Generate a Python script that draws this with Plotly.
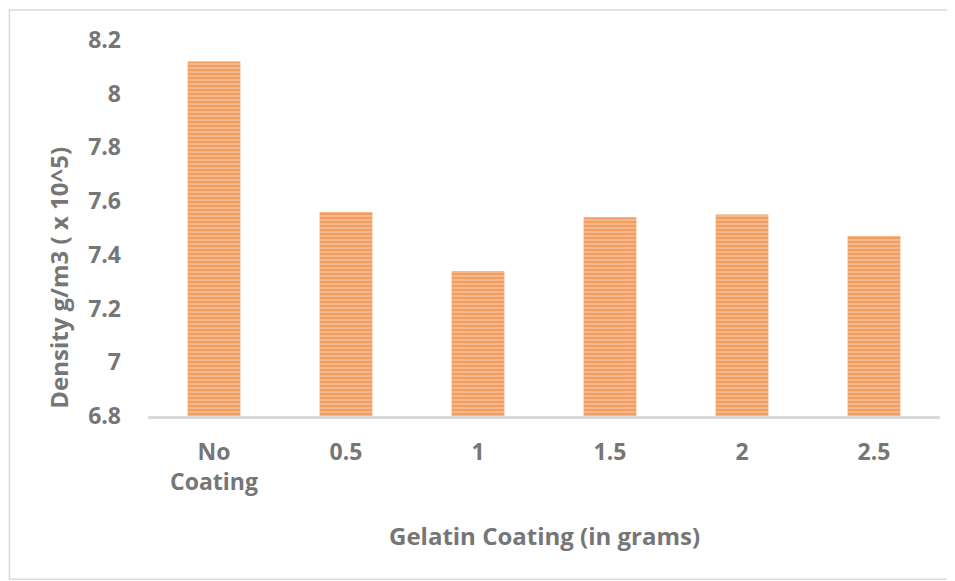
import plotly.graph_objects as go

categories = ["No<br>Coating", "0.5", "1", "1.5", "2", "2.5"]
density = [8.12, 7.56, 7.34, 7.54, 7.55, 7.47]
y_ticks = [6.8, 7.0, 7.2, 7.4, 7.6, 7.8, 8.0, 8.2]
y_tick_text = ["6.8", "7", "7.2", "7.4", "7.6", "7.8", "8", "8.2"]

base = 6.8
fig = go.Figure(go.Bar(
    x=categories,
    y=[v - base for v in density],
    base=base,
    marker=dict(
        color="#f8c39a",
        line=dict(width=0),
        pattern=dict(shape="-", fgcolor="#ea6e1a", bgcolor="#f9cba6", size=4, solidity=0.7),
    ),
    width=0.4,
))

text_color = "#767676"
# page body has an 8px margin, so the figure is sized/offset to compensate
fig.update_layout(
    width=947, height=573,
    margin=dict(l=140, r=15, t=32, b=165),
    paper_bgcolor="white", plot_bgcolor="white",
    font=dict(family="Open Sans", size=24, color=text_color),
    showlegend=False,
    xaxis=dict(
        showgrid=False, showline=True, linecolor="#d9d9d9", linewidth=3,
        ticks="", tickfont=dict(size=23, color=text_color, weight="bold"),
        ticklabelstandoff=13,
    ),
    yaxis=dict(
        range=[6.8, 8.2], tickvals=y_ticks, ticktext=y_tick_text,
        showgrid=False, zeroline=False, showline=False, ticks="",
        tickfont=dict(size=23, color=text_color, weight="bold"),
        ticklabelstandoff=26,
    ),
    annotations=[
        dict(text="<b>Gelatin Coating (in grams)</b>", xref="paper", yref="paper",
             x=0.5, y=-0.318, xanchor="center", yanchor="middle", showarrow=False,
             font=dict(size=24, color=text_color)),
        dict(text="<b>Density g/m3 ( x 10^5)</b>", xref="paper", yref="paper",
             x=-0.114, y=0.367, xanchor="center", yanchor="middle", showarrow=False,
             textangle=-90, font=dict(size=24, color=text_color)),
    ],
    shapes=[dict(type="rect", xref="paper", yref="paper",
                 x0=-0.175, x1=1.010, y0=-0.434, y1=1.080,
                 line=dict(color="#d9d9d9", width=1.5), fillcolor="rgba(0,0,0,0)", layer="below")],
)

fig.write_html("out.html")
